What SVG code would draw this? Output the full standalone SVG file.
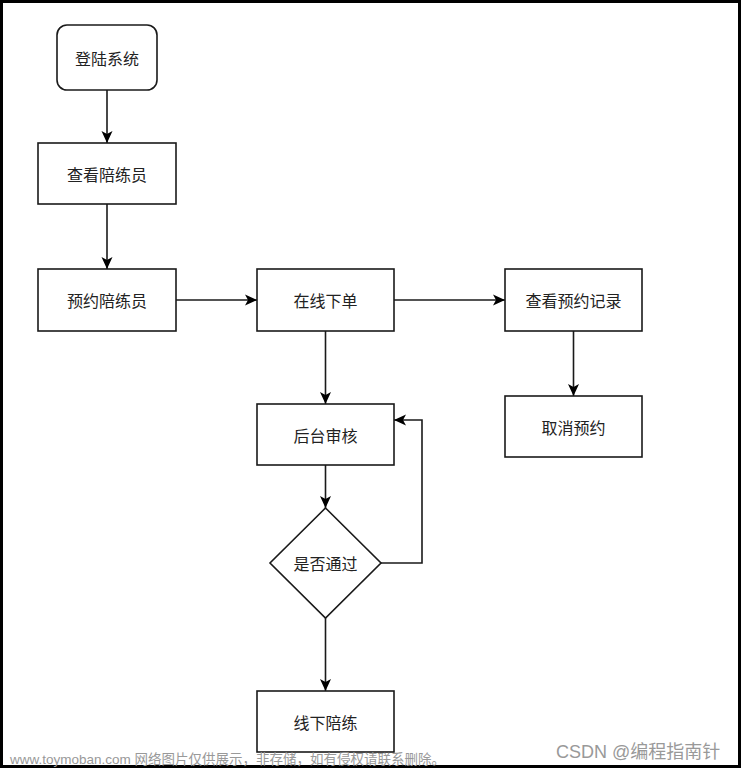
<svg xmlns="http://www.w3.org/2000/svg" width="742" height="769" viewBox="0 0 742 769">
<style>
.node{fill:#fff;stroke:#1a1a1a;stroke-width:1.6}
.lbl{font-family:"Noto Sans CJK SC","Liberation Sans",sans-serif;font-size:16px;fill:#222;text-anchor:middle;dominant-baseline:central}
.edge{fill:none;stroke:#1a1a1a;stroke-width:1.6}
.wm{font-family:"Liberation Sans","Noto Sans CJK SC",sans-serif;fill:#999}
</style>
<defs>
<marker id="arr" markerUnits="userSpaceOnUse" markerWidth="14" markerHeight="14" viewBox="0 0 14 14" refX="12" refY="7" orient="auto">
<path d="M0,1.5 L12,7 L0,12.5 L3,7 Z" fill="#000"/>
</marker>
</defs>
<rect x="0" y="0" width="742" height="769" fill="#fff"/>
<rect x="1.5" y="1.5" width="738" height="765" fill="none" stroke="#000" stroke-width="3"/>
<g id="connectors">
<path class="edge" d="M107,90 V143" marker-end="url(#arr)"/>
<path class="edge" d="M107,204 V269" marker-end="url(#arr)"/>
<path class="edge" d="M176,300 H257" marker-end="url(#arr)"/>
<path class="edge" d="M394,300 H505" marker-end="url(#arr)"/>
<path class="edge" d="M573.5,331 V396" marker-end="url(#arr)"/>
<path class="edge" d="M325.5,331 V404" marker-end="url(#arr)"/>
<path class="edge" d="M325.5,465 V508" marker-end="url(#arr)"/>
<path class="edge" d="M381,563 H422 V420 H394" marker-end="url(#arr)"/>
<path class="edge" d="M325.5,618 V691" marker-end="url(#arr)"/>
</g>
<g id="login"><rect class="node" x="57" y="25" width="100" height="65" rx="10"/><text class="lbl" x="107" y="58">登陆系统</text></g>
<g id="viewCoach"><rect class="node" x="38" y="143" width="138" height="61"/><text class="lbl" x="107" y="174">查看陪练员</text></g>
<g id="bookCoach"><rect class="node" x="38" y="269" width="138" height="62"/><text class="lbl" x="107" y="300">预约陪练员</text></g>
<g id="order"><rect class="node" x="257" y="269" width="137" height="62"/><text class="lbl" x="325.5" y="300">在线下单</text></g>
<g id="viewRecord"><rect class="node" x="505" y="269" width="137" height="62"/><text class="lbl" x="573.5" y="300">查看预约记录</text></g>
<g id="cancel"><rect class="node" x="505" y="396" width="137" height="61"/><text class="lbl" x="573.5" y="427">取消预约</text></g>
<g id="review"><rect class="node" x="257" y="404" width="137" height="61"/><text class="lbl" x="325.5" y="435">后台审核</text></g>
<g id="pass"><path class="node" d="M325.5,508 L381,563 L325.5,618 L270,563 Z"/><text class="lbl" x="325.5" y="563">是否通过</text></g>
<g id="offline"><rect class="node" x="257" y="691" width="137" height="61"/><text class="lbl" x="325.5" y="722">线下陪练</text></g>
<text class="wm" x="10" y="764" font-size="13.5">www.toymoban.com 网络图片仅供展示，非存储，如有侵权请联系删除。</text>
<text class="wm" x="556" y="758" font-size="18" fill="#8a8a8a">CSDN @编程指南针</text>
</svg>
